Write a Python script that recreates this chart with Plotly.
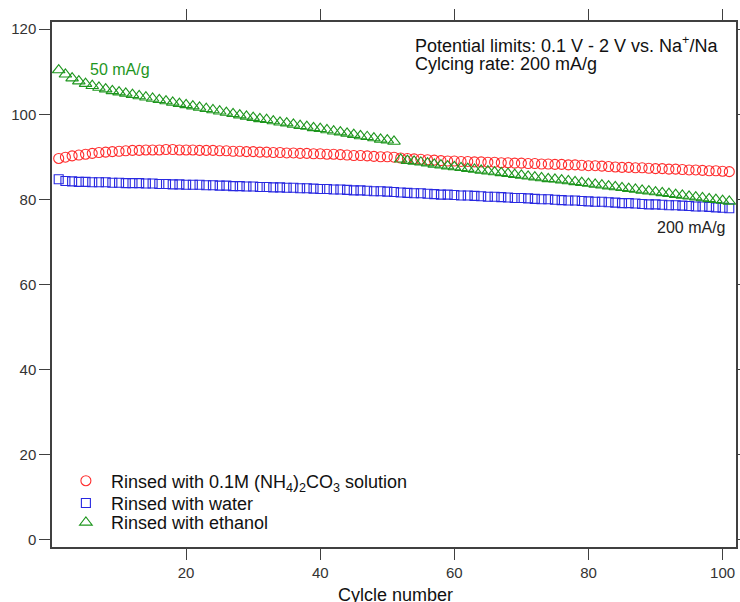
import plotly.graph_objects as go

cycles = list(range(1, 102))

nh4_capacity = [
    89.6, 89.9, 90.2, 90.4, 90.6, 90.8, 91.0, 91.1, 91.2, 91.3,
    91.4, 91.5, 91.5, 91.6, 91.6, 91.6, 91.7, 91.7, 91.6, 91.6,
    91.6, 91.5, 91.5, 91.5, 91.4, 91.4, 91.3, 91.3, 91.2, 91.2,
    91.1, 91.1, 91.0, 91.0, 90.9, 90.9, 90.8, 90.8, 90.7, 90.7,
    90.6, 90.6, 90.5, 90.4, 90.3, 90.3, 90.2, 90.1, 90.0, 90.0,
    89.9, 89.7, 89.6, 89.5, 89.4, 89.3, 89.2, 89.1, 89.0, 89.0,
    88.9, 88.9, 88.8, 88.8, 88.7, 88.7, 88.6, 88.6, 88.5, 88.5,
    88.4, 88.4, 88.3, 88.3, 88.2, 88.2, 88.1, 88.1, 88.0, 87.9,
    87.9, 87.8, 87.7, 87.6, 87.5, 87.5, 87.4, 87.4, 87.3, 87.2,
    87.2, 87.1, 87.1, 87.0, 86.9, 86.9, 86.8, 86.7, 86.7, 86.6,
    86.5,
]

water_capacity = [
    84.7, 84.3, 84.2, 84.1, 84.1, 84.0, 84.0, 84.0, 83.9, 83.9,
    83.8, 83.8, 83.8, 83.7, 83.7, 83.6, 83.6, 83.5, 83.5, 83.4,
    83.4, 83.4, 83.3, 83.3, 83.2, 83.2, 83.1, 83.1, 83.0, 83.0,
    82.9, 82.9, 82.8, 82.8, 82.7, 82.7, 82.6, 82.6, 82.5, 82.4,
    82.4, 82.3, 82.3, 82.2, 82.1, 82.1, 82.0, 81.9, 81.9, 81.8,
    81.7, 81.6, 81.5, 81.4, 81.4, 81.3, 81.2, 81.1, 81.1, 81.0,
    80.9, 80.9, 80.8, 80.7, 80.6, 80.6, 80.5, 80.4, 80.3, 80.3,
    80.2, 80.1, 80.0, 80.0, 79.9, 79.8, 79.7, 79.7, 79.6, 79.5,
    79.4, 79.4, 79.3, 79.2, 79.1, 79.1, 79.0, 78.9, 78.8, 78.8,
    78.7, 78.6, 78.6, 78.5, 78.4, 78.3, 78.3, 78.2, 78.1, 78.0,
    77.9,
]

ethanol_cycles_50 = list(range(1, 52))
ethanol_capacity_50 = [
    110.4, 109.4, 108.5, 107.8, 107.2, 106.7, 106.3, 105.9, 105.5, 105.2,
    104.9, 104.6, 104.3, 104.0, 103.7, 103.4, 103.1, 102.8, 102.5, 102.2,
    101.9, 101.6, 101.3, 101.0, 100.7, 100.4, 100.1, 99.8, 99.5, 99.2,
    98.9, 98.7, 98.4, 98.1, 97.9, 97.6, 97.3, 97.1, 96.8, 96.6,
    96.3, 96.0, 95.8, 95.5, 95.2, 94.9, 94.7, 94.4, 94.1, 93.9,
    93.6,
]

ethanol_cycles_200 = list(range(52, 102))
ethanol_capacity_200 = [
    89.4, 89.1, 88.9, 88.7, 88.5, 88.2, 88.0, 87.8, 87.6, 87.4,
    87.2, 87.0, 86.8, 86.6, 86.4, 86.2, 86.0, 85.8, 85.6, 85.4,
    85.2, 85.0, 84.8, 84.7, 84.5, 84.3, 84.1, 83.9, 83.7, 83.5,
    83.3, 83.1, 82.9, 82.7, 82.5, 82.3, 82.1, 81.9, 81.7, 81.5,
    81.3, 81.1, 80.9, 80.7, 80.5, 80.3, 80.1, 79.9, 79.7, 79.5,
]

x_ticks = [20, 40, 60, 80, 100]
y_ticks = [0, 20, 40, 60, 80, 100, 120]

RED = "rgb(255,45,45)"
BLUE = "rgb(40,40,225)"
GREEN = "rgb(30,150,30)"
AXIS = "#404040"
FONT = "Liberation Sans, Arial, sans-serif"

fig = go.Figure()
fig.add_trace(go.Scatter(
    x=cycles, y=nh4_capacity, mode="markers", legend="legend",
    name="Rinsed with 0.1M (NH<sub>4</sub>)<sub>2</sub>CO<sub>3</sub> solution",
    marker=dict(symbol="circle-open", size=10, color=RED, line=dict(width=1.1, color=RED)),
))
fig.add_trace(go.Scatter(
    x=cycles, y=water_capacity, mode="markers", legend="legend2",
    name="Rinsed with water",
    marker=dict(symbol="square-open", size=9, color=BLUE, line=dict(width=1.1, color=BLUE)),
))
fig.add_trace(go.Scatter(
    x=ethanol_cycles_50 + ethanol_cycles_200,
    y=ethanol_capacity_50 + ethanol_capacity_200,
    mode="markers", legend="legend3",
    name="Rinsed with ethanol",
    marker=dict(symbol="triangle-up-open", size=11, color=GREEN, line=dict(width=1.1, color=GREEN)),
))

fig.add_annotation(x=5.3, y=110.6, xref="x", yref="y", text="50 mA/g", showarrow=False,
                   xanchor="left", yanchor="middle", font=dict(size=16, color=GREEN, family=FONT))
fig.add_annotation(x=100.7, y=73.3, xref="x", yref="y", text="200 mA/g", showarrow=False,
                   xanchor="right", yanchor="middle", font=dict(size=16, color="#222", family=FONT))
fig.add_annotation(x=53.9, y=116.5, xref="x", yref="y",
                   text="Potential limits: 0.1 V - 2 V vs. Na<sup>+</sup>/Na", showarrow=False,
                   xanchor="left", yanchor="middle", font=dict(size=18, color="#111", family=FONT))
fig.add_annotation(x=53.9, y=111.8, xref="x", yref="y",
                   text="Cylcing rate: 200 mA/g", showarrow=False,
                   xanchor="left", yanchor="middle", font=dict(size=18, color="#111", family=FONT))
# x-axis title placed precisely below the tick labels
fig.add_annotation(x=0.502, y=-0.0914, xref="paper", yref="paper",
                   text="Cylcle number", showarrow=False,
                   xanchor="center", yanchor="middle", font=dict(size=18, color="#111", family=FONT))

legend_common = dict(xanchor="left", yanchor="middle", bgcolor="rgba(0,0,0,0)",
                     font=dict(size=18, color="#111", family=FONT), itemwidth=40,
                     borderwidth=0)

fig.update_layout(
    width=740, height=602,
    margin=dict(l=52, r=4, t=22, b=55),
    plot_bgcolor="white", paper_bgcolor="white",
    font=dict(family=FONT, size=15, color="#222"),
    showlegend=True,
    legend=dict(x=0.013, y=0.1257, **legend_common),
    legend2=dict(x=0.013, y=0.0832, **legend_common),
    legend3=dict(x=0.013, y=0.0463, **legend_common),
)
fig.update_xaxes(
    range=[0, 102], tickvals=x_ticks, ticks="outside", ticklen=11, tickwidth=1.3,
    tickcolor=AXIS, showline=True, linecolor=AXIS, linewidth=1.5, mirror="ticks",
    showgrid=False, zeroline=False, automargin=False,
    tickfont=dict(size=15, color="#333"),
)
fig.update_yaxes(
    range=[-1.8, 121.7], tickvals=y_ticks, ticks="outside", ticklen=11, tickwidth=1.3,
    tickcolor=AXIS, showline=True, linecolor=AXIS, linewidth=1.5, mirror="ticks",
    showgrid=False, zeroline=False, automargin=False,
    tickfont=dict(size=15, color="#333"),
)

fig.write_html(
    "out.html",
    config={"displayModeBar": False},
    post_script="document.body.style.margin='0';document.body.style.overflow='hidden';",
)
